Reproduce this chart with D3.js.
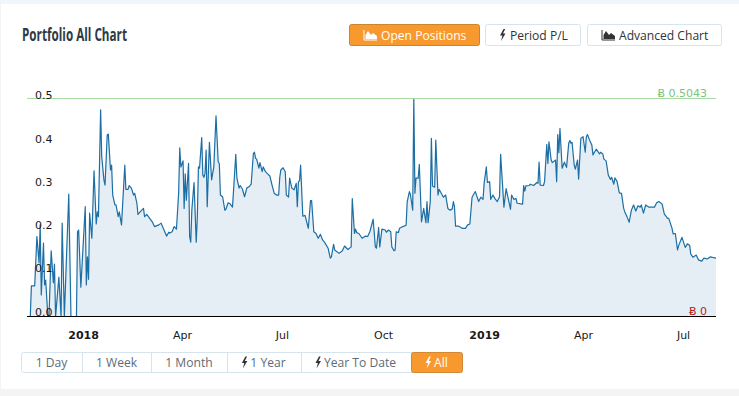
<!DOCTYPE html>
<html>
<head>
<meta charset="utf-8">
<script src="https://cdnjs.cloudflare.com/ajax/libs/d3/7.8.5/d3.min.js"></script>
<style>
    html, body { margin: 0; padding: 0; background: #f4f4f4; overflow: hidden; }
    text { font-family: "DejaVu Sans", sans-serif; }
    .btn text { font-family: "Open Sans", sans-serif; font-size: 12.1px; }
</style>
</head>
<body>
<svg id="chart" width="739" height="396"></svg>
<script>
// days counted from 2018-01-01
let dayOffsets = [-51,-48,-47,-44,-42,-40,-39,-38,-36,-35,-34,-32,-31,-29,-27,-26,-25,-22,-20,-19,-17,-13,-11,-6,-5,-4,-2,2,3,4,5,6,8,10,12,13,14,16,17,19,20,22,23,25,26,27,29,30,32,33,35,38,39,41,42,44,46,47,49,50,53,55,56,58,61,63,65,69,71,73,76,78,79,81,83,85,87,88,89,91,92,93,94,96,97,98,99,101,103,104,105,106,108,109,110,111,112,113,115,117,119,121,123,124,125,127,128,129,130,132,134,136,137,139,140,142,143,145,147,149,151,153,155,156,157,158,160,161,163,164,166,168,170,172,174,176,178,179,180,182,184,185,187,188,190,192,194,195,196,197,198,200,202,205,207,208,210,212,214,216,218,220,223,225,226,228,229,233,236,238,241,244,245,247,248,249,251,254,257,259,261,264,266,267,269,270,272,275,276,278,280,281,283,284,285,287,288,291,294,295,297,298,300,301,302,303,305,306,308,310,312,313,314,316,317,318,320,321,323,324,326,328,330,332,334,336,337,338,339,342,343,345,348,350,352,354,357,360,362,364,365,367,368,370,371,373,375,377,379,380,381,383,385,389,390,392,394,395,400,401,402,403,406,407,410,413,414,415,416,419,420,422,423,424,426,427,430,431,432,433,434,436,438,440,442,443,444,445,447,448,450,451,453,455,457,458,459,461,463,464,467,470,471,473,474,476,478,480,481,483,484,486,488,490,492,493,495,497,499,501,503,505,507,508,510,512,515,518,520,522,524,527,529,532,533,536,537,539,541,542,545,548,550,552,553,555,558,560,563,565,568,571,574,576];

let portfolioValues = [0,0,.071,.071,.185,.124,.212,.05,.17,.073,.084,0,0,.152,.078,.121,0,.091,0,.216,0,.283,0,0,.196,.2,.068,.254,.073,.138,.086,.239,.181,.337,.214,.242,.231,.478,.37,.316,.304,.42,.422,.339,.35,.281,.258,.258,.231,.242,.212,.35,.294,.294,.303,.297,.281,.285,.262,.236,.245,.25,.231,.236,.226,.219,.208,.212,.216,.204,.186,.195,.193,.196,.208,.202,.286,.39,.346,.36,.25,.33,.269,.354,.185,.172,.246,.31,.172,.231,.346,.343,.414,.327,.322,.331,.385,.254,.403,.316,.346,.464,.358,.354,.281,.277,.262,.246,.248,.263,.26,.253,.293,.375,.32,.297,.303,.295,.277,.297,.3,.306,.377,.38,.366,.364,.343,.356,.335,.346,.335,.33,.325,.304,.285,.281,.281,.321,.339,.344,.335,.281,.276,.32,.297,.293,.308,.254,.312,.314,.35,.232,.234,.204,.268,.268,.196,.192,.181,.19,.177,.171,.158,.135,.138,.167,.154,.146,.152,.163,.155,.161,.273,.192,.202,.194,.192,.181,.186,.185,.196,.225,.161,.158,.206,.161,.202,.2,.195,.2,.196,.161,.152,.154,.196,.194,.204,.208,.211,.266,.289,.281,.246,.5043,.285,.32,.32,.352,.219,.25,.217,.266,.217,.266,.412,.302,.299,.408,.281,.294,.285,.276,.281,.25,.246,.249,.266,.254,.209,.209,.207,.204,.204,.212,.214,.276,.289,.266,.276,.271,.308,.346,.31,.312,.271,.281,.272,.266,.277,.375,.335,.253,.296,.248,.281,.271,.273,.262,.26,.303,.29,.302,.303,.306,.303,.31,.308,.357,.304,.303,.312,.398,.354,.404,.362,.356,.362,.312,.421,.379,.435,.343,.357,.345,.401,.407,.401,.403,.35,.341,.362,.318,.412,.416,.38,.416,.421,.408,.397,.374,.387,.376,.38,.376,.364,.36,.327,.317,.322,.306,.321,.312,.286,.285,.25,.242,.231,.218,.246,.258,.244,.256,.253,.258,.239,.258,.253,.253,.253,.263,.266,.26,.237,.227,.227,.204,.191,.192,.154,.164,.183,.16,.168,.165,.145,.137,.142,.131,.128,.135,.133,.138,.136,.135];

let yTicks = [0, 0.1, 0.2, 0.3, 0.4, 0.5];
let xTickDays = [0, 90, 181, 273, 365, 455, 546];
let xTickLabels = ['2018', 'Apr', 'Jul', 'Oct', '2019', 'Apr', 'Jul'];
let xTickBold = ['2018', '2019'];
let maxLabel = '\u0243 0.5043';
let minLabel = '\u0243 0';
let topButtons = ['Open Positions', 'Period P/L', 'Advanced Chart'];
let rangeButtons = ['1 Day', '1 Week', '1 Month', '1 Year', 'Year To Date', 'All'];

const startDay = new Date(Date.UTC(2018, 0, 1));
const toDate = d => d3.utcDay.offset(startDay, d);

let svg = d3.select('#chart');

// 页面背景和白色卡片
svg.append('rect').attr('width', 739).attr('height', 4).attr('fill', '#f1f6fb');
svg.append('rect').attr('x', 1).attr('y', 4).attr('width', 738).attr('height', 385).attr('fill', '#fff');

svg.append('text')
    .attr('x', 22).attr('y', 41)
    .attr('textLength', 105).attr('lengthAdjust', 'spacingAndGlyphs')
    .style('font-family', '"Open Sans", sans-serif')
    .style('font-size', '17px').style('font-weight', 700)
    .attr('fill', '#2e3a46')
    .text('Portfolio All Chart');

// 比例尺
let x = d3.scaleUtc()
    .domain([toDate(-51), toDate(576)])
    .range([27, 716]);
let y = d3.scaleLinear()
    .domain([0, 0.5043])
    .range([316.5, 98.5]);

let points = dayOffsets.map((d, i) => ({date: toDate(d), value: portfolioValues[i]}));

svg.append('path')
    .datum(points)
    .attr('fill', '#e5eef4')
    .attr('d', d3.area().x(d => x(d.date)).y0(y(0)).y1(d => y(d.value)));

svg.append('path')
    .datum(points)
    .attr('fill', 'none')
    .attr('stroke', '#1c6ea4')
    .attr('stroke-width', 1.2)
    .attr('stroke-linejoin', 'round')
    .attr('d', d3.line().x(d => x(d.date)).y(d => y(d.value)));

// 最大值线 和 基线
svg.append('line')
    .attr('x1', 27).attr('x2', 716).attr('y1', y(0.5043)).attr('y2', y(0.5043))
    .attr('stroke', '#a8dba4').attr('stroke-width', 1);
svg.append('line')
    .attr('x1', 27).attr('x2', 716).attr('y1', y(0)).attr('y2', y(0))
    .attr('stroke', '#000').attr('stroke-width', 1);

svg.append('text')
    .attr('x', 707).attr('y', 97).attr('text-anchor', 'end')
    .attr('fill', '#7cc47c').style('font-size', '11px')
    .text(maxLabel);
svg.append('text')
    .attr('x', 707).attr('y', 315).attr('text-anchor', 'end')
    .attr('fill', '#b01c1c').style('font-size', '11px')
    .text(minLabel);

// 坐标轴
let yAxis = d3.axisRight(y).tickValues(yTicks).tickSize(0).tickFormat(d3.format('.1f'));
let gy = svg.append('g').attr('transform', 'translate(32,-5)').call(yAxis);
gy.select('.domain').remove();
gy.selectAll('text').attr('fill', '#1a1a1a').style('font-size', '11px').style('font-family', '"DejaVu Sans", sans-serif');

let xAxis = d3.axisBottom(x)
    .tickValues(xTickDays.map(toDate))
    .tickSize(0)
    .tickFormat((d, i) => xTickLabels[i]);
let gx = svg.append('g').attr('transform', 'translate(0,328)').call(xAxis);
gx.select('.domain').remove();
gx.selectAll('text')
    .attr('fill', '#1a1a1a')
    .style('font-size', '11px')
    .style('font-family', '"DejaVu Sans", sans-serif')
    .style('font-weight', (d, i) => xTickBold.includes(xTickLabels[i]) ? 700 : 400);

// 图标
function drawBolt(g, px, py, color) {
    g.append('path')
        .attr('d', `M${px + 3.5},${py} L${px},${py + 6.5} L${px + 2.4},${py + 6.5} L${px + 1},${py + 12} L${px + 5.5},${py + 4.5} L${px + 3},${py + 4.5} L${px + 5.2},${py} Z`)
        .attr('fill', color);
}
function drawArea(g, px, py, color) {
    g.append('path')
        .attr('d', `M${px},${py} V${py + 10} H${px + 13}`)
        .attr('fill', 'none').attr('stroke', color).attr('stroke-width', 1);
    g.append('path')
        .attr('d', `M${px + 1.5},${py + 9} V${py + 5} L${px + 4},${py + 1} L${px + 7},${py + 5} L${px + 9},${py + 3} L${px + 13},${py + 6} V${py + 9} Z`)
        .attr('fill', color);
}

// 右上角按钮
let topX = [349, 485, 587],
    topW = [131, 96, 135],
    topActive = [true, false, false];
topButtons.forEach(function (label, i) {
    let g = svg.append('g').attr('class', 'btn');
    g.append('rect')
        .attr('x', topX[i] + 0.5).attr('y', 24.5).attr('width', topW[i] - 1).attr('height', 21).attr('rx', 2)
        .attr('fill', topActive[i] ? '#f7992f' : '#fff')
        .attr('stroke', topActive[i] ? '#c98531' : '#d6e4ee');
    let color = topActive[i] ? '#fff' : '#333';
    if (i === 1) {
        drawBolt(g, topX[i] + 15, 29, color);
    } else {
        drawArea(g, topX[i] + 15, 30, color);
    }
    g.append('text')
        .attr('x', topX[i] + (i === 1 ? 25 : 32)).attr('y', 39.5)
        .attr('fill', topActive[i] ? '#fff' : '#333')
        .text(label);
});

// 时间范围按钮
let rangeEdges = [21, 82, 151, 227, 301, 411, 463],
    rangeBolt = [false, false, false, true, true, true];
svg.append('rect')
    .attr('x', 21.5).attr('y', 352.5).attr('width', 441).attr('height', 20).attr('rx', 2)
    .attr('fill', '#fff').attr('stroke', '#d6e4ee');
rangeButtons.forEach(function (label, i) {
    let g = svg.append('g').attr('class', 'btn');
    let left = rangeEdges[i], right = rangeEdges[i + 1];
    let active = label === 'All';
    if (active) {
        g.append('rect')
            .attr('x', left + 0.5).attr('y', 352.5).attr('width', right - left - 1).attr('height', 20).attr('rx', 2)
            .attr('fill', '#f7992f').attr('stroke', '#d18a33');
    } else if (i > 0) {
        g.append('line')
            .attr('x1', left + 0.5).attr('x2', left + 0.5).attr('y1', 353).attr('y2', 372)
            .attr('stroke', '#d6e4ee');
    }
    let cx = (left + right) / 2 + (rangeBolt[i] ? 4 : 0);
    let t = g.append('text')
        .attr('x', cx).attr('y', 367).attr('text-anchor', 'middle')
        .attr('fill', active ? '#fff' : '#5d6b78')
        .text(label);
    if (rangeBolt[i]) {
        let w = t.node().getComputedTextLength();
        drawBolt(g, cx - w / 2 - 8.5, 356.5, active ? '#fff' : '#333');
    }
});
</script>
</body>
</html>
